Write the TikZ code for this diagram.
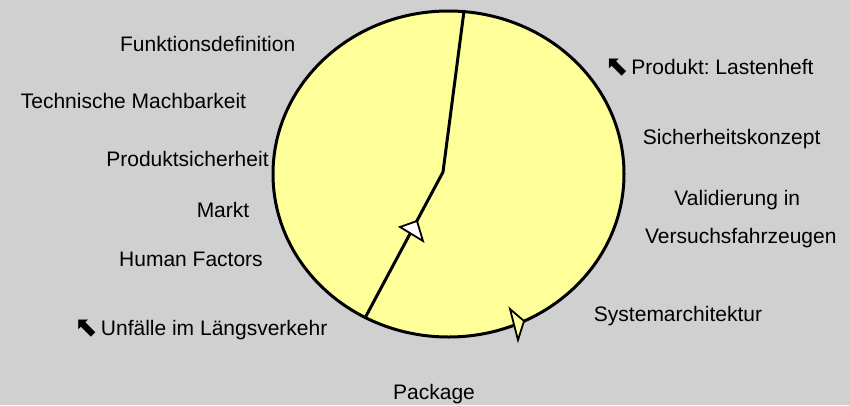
\documentclass[tikz,border=0pt]{standalone}
\usepackage{fontspec}
\setmainfont{Liberation Sans}
\newfontfamily\symfont{DejaVu Sans}
\definecolor{bggray}{RGB}{208,208,208}
\definecolor{pieyellow}{RGB}{255,255,153}
\newcommand{\nwarrowglyph}{\raisebox{-1pt}{\fontsize{28}{30}\symfont ⬉}}
\tikzset{
  lbl/.style={anchor=base, inner sep=0pt, font=\fontsize{21}{25}\selectfont\frenchspacing, text=black},
  outline/.style={draw=black, line width=3pt},
  divider/.style={draw=black, line width=3pt, line join=miter},
  tri/.style={draw=black, line width=1.8pt, line join=miter}
}
\begin{document}
\begin{tikzpicture}[x=1pt,y=-1pt]
\fill[bggray] (0,0) rectangle (849,405);
\useasboundingbox (0,0) rectangle (849,405);
% pie
\coordinate (c) at (448.5,174);
\filldraw[fill=pieyellow, outline] (c) ellipse [x radius=175.5, y radius=163];
\coordinate (top) at (464,11);
\coordinate (mid) at (443,172);
\coordinate (bot) at (365,318);
\draw[divider] (top) -- (mid) -- (bot);
% arrowheads
\filldraw[fill=white, tri] (417,221) -- (400,227) -- (423,241) -- cycle;
\filldraw[fill=pieyellow, tri] (524,321) -- (510,309) -- (518,340) -- cycle;
% labels
\node[lbl] (f1) at (207.7,51) {Funktionsdefinition};
\node[lbl] (f2) at (133.5,108) {Technische Machbarkeit};
\node[lbl] (f3) at (187.5,166.7) {Produktsicherheit};
\node[lbl] (f4) at (223,217.7) {Markt};
\node[lbl] (f5) at (191,266.7) {Human Factors};
\node[lbl] (f6) at (200.9,335) {\nwarrowglyph\hspace{3pt}Unfälle im Längsverkehr};
\node[lbl] (g1) at (709.3,74) {\nwarrowglyph\hspace{3pt}Produkt: Lastenheft};
\node[lbl] (g2) at (731.7,144.3) {Sicherheitskonzept};
\node[lbl] (g3) at (737.3,205) {Validierung in};
\node[lbl] (g4) at (740.8,243.3) {Versuchsfahrzeugen};
\node[lbl] (g5) at (678,321) {Systemarchitektur};
\node[lbl] (p) at (434,399.3) {Package};
\end{tikzpicture}
\end{document}
